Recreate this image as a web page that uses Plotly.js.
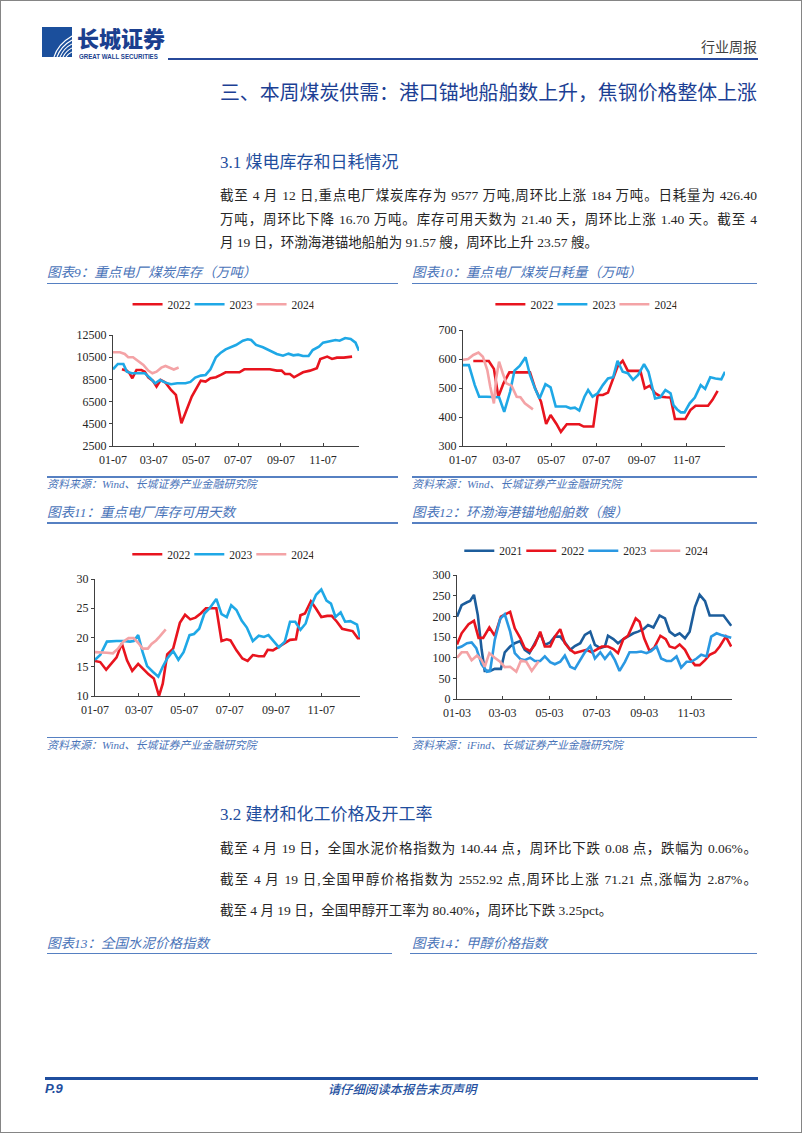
<!DOCTYPE html>
<html><head><meta charset="utf-8">
<script src="https://cdn.plot.ly/plotly-3.0.1.min.js"></script>
<style>
html,body{margin:0;padding:0;background:#fff;}
#page{position:relative;width:802px;height:1133px;overflow:hidden;background:#fff;font-family:"Liberation Serif","Noto Sans CJK SC",serif;}
#frame{position:absolute;left:0;top:0;width:802px;height:1133px;box-sizing:border-box;border:1px solid #858585;pointer-events:none;z-index:10;}
.abs{position:absolute;white-space:nowrap;}
.ctitle{position:absolute;white-space:nowrap;font-style:italic;font-size:13.5px;color:#4a74b9;line-height:16px;}
.src{position:absolute;white-space:nowrap;font-style:italic;font-size:11px;color:#4a74b9;line-height:14px;}
.hl{position:absolute;background:#5680c2;height:1.6px;}
.para{position:absolute;left:220px;width:537px;font-size:13.5px;color:#262626;line-height:18px;text-align:justify;text-align-last:justify;}
.para.last{text-align:left;text-align-last:left;white-space:nowrap;}
.sec{position:absolute;left:220px;font-size:17px;color:#1f4e9e;line-height:22px;white-space:nowrap;}
.chart{position:absolute;}
</style>
</head><body>
<div id="page">
  <div id="frame"></div>
  <!-- logo -->
  <svg class="abs" style="left:42px;top:27px" width="30" height="30" viewBox="0 0 30 30">
    <rect x="0" y="0" width="30" height="30" fill="#1b4f9c"/>
    <g fill="none" stroke="#ffffff" stroke-width="1.1">
      <path d="M12,30 Q16,17 30,9"/>
      <path d="M15,30 Q19,19 30,13"/>
      <path d="M18,30 Q22,21 30,17"/>
      <path d="M21,30 Q24,24 30,21"/>
      <path d="M24,30 Q26,27 30,25"/>
    </g>
  </svg>
  <div class="abs" style="left:77px;top:26px;font-family:'Noto Sans CJK SC';font-weight:900;font-size:22px;line-height:22px;color:#1b3f8f;">长城证券</div>
  <div class="abs" style="left:79px;top:53px;font-family:'Liberation Sans';font-weight:bold;font-size:7px;line-height:7px;color:#1b3f8f;transform:scaleX(0.88);transform-origin:left top;">GREAT WALL SECURITIES</div>
  <div class="abs" style="right:45px;top:37px;font-family:'Noto Sans CJK SC';font-size:14px;line-height:18px;color:#404040;">行业周报</div>
  <div class="abs" style="left:168px;top:58px;width:590px;height:2px;background:#27499a;"></div>

  <div class="abs" style="right:45px;top:79px;font-family:'Noto Sans CJK SC';font-size:19.9px;line-height:26px;color:#1c3f94;">三、本周煤炭供需：港口锚地船舶数上升，焦钢价格整体上涨</div>

  <div class="sec" style="top:152px;">3.1 煤电库存和日耗情况</div>
  <div class="para" style="top:187px;">截至 4 月 12 日,重点电厂煤炭库存为 9577 万吨,周环比上涨 184 万吨。日耗量为 426.40</div>
  <div class="para" style="top:211px;">万吨，周环比下降 16.70 万吨。库存可用天数为 21.40 天，周环比上涨 1.40 天。截至 4</div>
  <div class="para last" style="top:234px;">月 19 日，环渤海港锚地船舶为 91.57 艘，周环比上升 23.57 艘。</div>

  <!-- row 1 titles -->
  <div class="ctitle" style="left:47px;top:265px;">图表9：重点电厂煤炭库存（万吨）</div>
  <div class="ctitle" style="left:412px;top:265px;">图表10：重点电厂煤炭日耗量（万吨）</div>
  <div class="hl" style="left:47px;top:282.5px;width:351px;"></div>
  <div class="hl" style="left:412px;top:282.5px;width:345px;"></div>

  <div id="c9" class="chart"></div>
  <div id="c10" class="chart"></div>

  <div class="hl" style="left:47px;top:476px;width:351px;"></div>
  <div class="hl" style="left:412px;top:476px;width:345px;"></div>
  <div class="src" style="left:47px;top:477px;">资料来源：Wind、长城证券产业金融研究院</div>
  <div class="src" style="left:412px;top:477px;">资料来源：Wind、长城证券产业金融研究院</div>

  <!-- row 2 titles -->
  <div class="ctitle" style="left:47px;top:505px;">图表11：重点电厂库存可用天数</div>
  <div class="ctitle" style="left:412px;top:505px;">图表12：环渤海港锚地船舶数（艘）</div>
  <div class="hl" style="left:47px;top:522px;width:351px;"></div>
  <div class="hl" style="left:412px;top:522px;width:345px;"></div>

  <div id="c11" class="chart"></div>
  <div id="c12" class="chart"></div>

  <div class="hl" style="left:47px;top:736.5px;width:351px;"></div>
  <div class="hl" style="left:412px;top:736.5px;width:345px;"></div>
  <div class="src" style="left:47px;top:738px;">资料来源：Wind、长城证券产业金融研究院</div>
  <div class="src" style="left:412px;top:738px;">资料来源：iFind、长城证券产业金融研究院</div>

  <div class="sec" style="top:804px;">3.2 建材和化工价格及开工率</div>
  <div class="para" style="top:840px;">截至 4 月 19 日，全国水泥价格指数为 140.44 点，周环比下跌 0.08 点，跌幅为 0.06%。</div>
  <div class="para" style="top:871px;">截至 4 月 19 日,全国甲醇价格指数为 2552.92 点,周环比上涨 71.21 点,涨幅为 2.87%。</div>
  <div class="para last" style="top:902px;">截至 4 月 19 日，全国甲醇开工率为 80.40%，周环比下跌 3.25pct。</div>

  <div class="ctitle" style="left:47px;top:936px;">图表13：全国水泥价格指数</div>
  <div class="ctitle" style="left:412px;top:936px;">图表14：甲醇价格指数</div>
  <div class="hl" style="left:47px;top:952.5px;width:345px;"></div>
  <div class="hl" style="left:410px;top:952.5px;width:347px;"></div>

  <!-- footer -->
  <div class="abs" style="left:45px;top:1077px;width:713px;height:2.5px;background:#1f4e9e;"></div>
  <div class="abs" style="left:45px;top:1081px;font-family:'Liberation Sans';font-weight:bold;font-style:italic;font-size:13px;line-height:16px;color:#1f4e9e;">P.9</div>
  <div class="abs" style="left:327px;top:1081px;width:150px;text-align:center;font-family:'Noto Sans CJK SC';font-weight:500;font-style:italic;font-size:12.4px;line-height:16px;color:#2450a0;">请仔细阅读本报告末页声明</div>
</div>

<script>
// ---------- DATA ----------
// 图表9 重点电厂煤炭库存（万吨）
const c9_2022_dates = ['01-20','01-27','01-31','02-04','02-10','02-17','02-22','02-27','03-06','03-11','03-17','03-24','04-01','04-08','04-16','04-22','05-01','05-14','05-21','05-28','06-05','06-12','06-19','06-27','07-09','07-16','08-02','08-22','09-01','09-08','09-13','09-20','09-26','10-02','10-09','10-19','10-29','11-03','11-13','11-20','11-27','12-07','12-19'];
const c9_2022 = [9410,9290,9050,8600,9350,9350,9200,8690,8360,7850,8450,8210,7550,7100,4550,5450,6950,8390,8300,8600,8690,8900,9140,9140,9140,9410,9410,9410,9290,9290,8990,8990,8690,8900,9140,9290,9500,10340,10550,10340,10460,10460,10550];
const c9_2023_dates = ['01-07','01-14','01-22','01-27','02-03','02-13','02-22','03-02','03-09','03-16','03-24','04-01','04-10','04-22','04-29','05-06','05-14','05-21','05-28','06-05','06-12','06-19','06-27','07-04','07-14','07-21','07-26','08-02','08-12','08-22','09-01','09-10','09-18','09-25','10-02','10-09','10-17','10-23','11-01','11-07','11-18','11-25','12-01','12-09','12-17','12-24','12-29'];
const c9_2023 = [9410,9890,9890,9200,9050,9050,9050,8600,8150,8450,8210,8060,8150,8150,8270,8660,8840,8900,9410,10490,10910,11210,11390,11600,11990,12110,12050,11600,11390,11090,10790,10640,10820,10670,10730,10610,10610,11150,11450,11810,11990,12050,11990,12230,12140,11810,11090];
const c9_2024_dates = ['01-07','01-17','01-24','01-29','02-05','02-12','02-20','02-27','03-05','03-11','03-18','03-24','03-31','04-05','04-12'];
const c9_2024 = [10940,10940,10790,10490,10490,10190,9800,9290,9050,9200,9560,9710,9500,9393,9577];

// 图表10 重点电厂煤炭日耗量（万吨）
const c10_2022_dates = ['01-21','02-01','02-11','02-18','02-24','03-03','03-11','03-21','03-30','04-08','04-15','04-23','04-30','05-06','05-14','05-20','05-28','06-07','06-14','06-20','06-28','07-03','07-09','07-16','07-23','07-30','08-05','08-12','08-19','08-28','09-05','09-11','09-18','09-25','10-03','10-10','10-16','10-22','10-30','11-05','11-12','11-19','11-28','12-06','12-12','12-19'];
const c10_2022 = [593,593,593,566,470,516,554,554,554,554,499,453,376,407,376,349,375,375,375,367,367,367,476,476,484,536,574,594,559,559,559,499,508,482,470,468,467,393,393,393,424,439,439,439,459,490];
const c10_2023_dates = ['01-07','01-15','01-23','01-29','02-08','02-17','02-25','03-04','03-12','03-18','03-25','04-02','04-08','04-15','04-21','04-29','05-06','05-13','05-19','05-27','06-02','06-08','06-14','06-21','06-26','07-02','07-09','07-16','07-23','07-30','08-05','08-12','08-19','08-26','09-02','09-10','09-16','09-25','10-02','10-09','10-16','10-20','10-25','10-30','11-04','11-11','11-18','11-26','12-02','12-09','12-16','12-24','12-29'];
const c10_2023 = [579,579,510,470,470,470,468,418,487,560,576,606,545,497,464,513,502,436,436,436,430,432,422,470,493,470,482,510,533,537,594,556,551,528,545,582,556,464,468,493,482,441,426,416,416,447,467,510,497,537,533,530,556];
const c10_2024_dates = ['01-07','01-14','01-21','01-28','02-03','02-09','02-13','02-18','02-21','02-25','03-02','03-07','03-14','03-21','03-26','04-01','04-12'];
const c10_2024 = [597,600,614,622,608,562,505,447,533,591,551,516,508,470,468,447,426.4];

// 图表11 重点电厂库存可用天数
const c11_2022_dates = ['01-07','01-14','01-22','01-30','02-05','02-12','02-19','02-26','03-06','03-13','03-20','03-27','04-03','04-08','04-14','04-22','05-01','05-08','05-15','05-22','05-29','06-05','06-14','06-19','06-26','07-03','07-08','07-16','07-24','07-31','08-07','08-15','08-22','08-27','09-03','09-11','09-19','09-26','10-04','10-10','10-16','10-24','10-31','11-07','11-15','11-21','11-28','12-05','12-12','12-19','12-26','12-29'];
const c11_2022 = [16,15.8,14.5,15.8,16.6,19,16.1,14.3,15.5,14.6,13.7,13,10,12.1,17.1,18.1,22.5,23.9,23.1,23.4,24.1,25,25,25,19.4,19.7,19.5,17.8,16.4,16,17,16.8,16.8,17.9,17.8,18.4,19.1,19.6,19.7,23.8,24.1,26.2,24.9,23.5,23.7,23.7,22.7,21.5,21.3,21.1,19.9,19.9];
const c11_2023_dates = ['01-07','01-14','01-23','01-30','02-05','02-14','02-23','02-28','03-06','03-12','03-18','03-26','04-02','04-08','04-14','04-22','04-29','05-06','05-14','05-20','05-27','06-03','06-10','06-19','06-26','07-03','07-09','07-16','07-23','07-30','08-07','08-15','08-22','08-28','09-04','09-11','09-19','09-26','10-03','10-10','10-17','10-24','10-31','11-07','11-14','11-20','11-26','12-03','12-09','12-16','12-25','12-29'];
const c11_2023 = [16.2,17,19.3,19.4,19.4,19.4,19.3,19.4,20.4,17.5,15.1,14.1,13.3,15,16.4,17.7,16.2,17.5,20.4,20.6,21.5,24.1,25,26.6,24,23.5,25.5,24.7,22.9,21.7,19.4,20.3,20.1,20.4,19.4,18.3,19.3,22.7,22.7,21.3,22.4,25.3,27.3,28.2,26.3,25.8,23.5,24.3,22.7,22.8,22.2,20];
const c11_2024_dates = ['01-07','01-14','01-23','01-31','02-07','02-14','02-21','02-28','03-06','03-12','03-19','03-24','03-30','04-04','04-12'];
const c11_2024 = [17.5,17.5,17.4,17.3,18.1,19.3,19.9,19.9,19.1,18.1,18.1,18.9,19.5,20.2,21.4];

// 图表12 环渤海港锚地船舶数（艘）
const c12_2021_dates = ['01-03','01-09','01-16','01-20','01-25','01-30','02-04','02-08','02-15','02-21','03-01','03-06','03-13','03-19','03-26','04-01','04-07','04-14','04-21','04-27','05-04','05-10','05-17','05-23','05-30','06-05','06-12','06-18','06-25','07-01','07-08','07-14','07-18','07-25','07-31','08-07','08-13','08-20','08-26','09-02','09-08','09-15','09-23','09-30','10-06','10-13','10-19','10-26','11-01','11-08','11-14','11-21','11-27','12-04','12-10','12-15','12-25'];
const c12_2021 = [199,227,234,237,252,203,119,68,68,73,73,113,127,135,140,119,111,135,159,131,137,151,151,137,119,128,135,155,163,131,123,127,153,145,135,145,152,159,163,169,179,173,202,195,163,153,159,147,163,223,252,237,202,202,203,202,177];
const c12_2022_dates = ['01-03','01-09','01-18','01-25','01-31','02-06','02-14','02-21','03-01','03-08','03-13','03-19','03-26','04-01','04-08','04-14','04-21','04-27','05-04','05-10','05-17','05-23','05-30','06-05','06-12','06-20','06-27','07-03','07-10','07-18','07-25','07-31','08-07','08-13','08-23','08-28','09-03','09-10','09-16','09-24','10-01','10-06','10-13','10-19','10-26','11-01','11-08','11-14','11-21','11-27','12-04','12-10','12-18','12-25'];
const c12_2022 = [132,159,181,189,148,148,173,153,199,205,211,171,148,123,116,131,163,127,127,151,169,135,119,111,115,119,113,119,127,127,121,111,145,153,195,187,147,116,124,153,145,127,123,132,119,98,82,82,94,107,113,127,151,127];
const c12_2023_dates = ['01-03','01-09','01-16','01-22','01-28','02-04','02-11','02-15','02-21','02-28','03-06','03-13','03-19','03-26','04-01','04-08','04-14','04-21','04-27','05-04','05-10','05-17','05-23','05-30','06-05','06-12','06-18','06-25','07-01','07-08','07-14','07-21','07-27','08-02','08-09','08-15','08-24','08-30','09-06','09-12','09-19','09-25','10-02','10-08','10-15','10-21','10-28','11-03','11-10','11-16','11-23','11-29','12-06','12-12','12-19','12-25'];
const c12_2023 = [123,127,135,137,123,84,66,68,143,194,205,163,111,97,94,100,92,92,103,89,84,90,105,78,73,94,113,128,98,113,97,113,94,68,90,113,113,115,111,116,127,98,92,92,103,76,90,90,98,107,103,151,159,155,151,148];
const c12_2024_dates = ['01-03','01-09','01-16','01-22','01-29','02-04','02-08','02-14','02-21','02-28','03-06','03-13','03-21','03-27','04-03','04-10','04-19'];
const c12_2024 = [100,113,113,94,105,94,78,111,100,90,77,78,66,93,90,68,91.57];

// tick labels
const ticksA = ['01-07','03-07','05-07','07-07','09-07','11-07'];
const ticksB = ['01-03','03-03','05-03','07-03','09-03','11-03'];
const c9_yticks = [2500,4500,6500,8500,10500,12500];
const c10_yticks = [300,400,500,600,700];
const c11_yticks = [10,15,20,25,30];
const c12_yticks = [0,50,100,150,200,250,300];

// ---------- DRAWING ----------
const BASE = '2023-';
const FONT = 'Liberation Serif, Noto Sans CJK SC, serif';
const COL = {r:'#e8141e', b:'#1fa8e6', p:'#f4a3a6', d:'#1c5d9c', b2:'#2a98e2'};
const toX = a => a.map(d => BASE + d);
function tr(name, dates, vals, color){
  return {type:'scatter', mode:'lines', name:name, x:toX(dates), y:vals,
          line:{color:color, width:2.6}, hoverinfo:'skip'};
}
function build(id, g, traces, yt, yr, xt, xr){
  const el = document.getElementById(id);
  el.style.left = g.left + 'px'; el.style.top = g.top + 'px';
  el.style.width = g.w + 'px'; el.style.height = g.h + 'px';
  const m = {l: g.pl - g.left, r: g.left + g.w - g.pr, t: g.pt - g.top, b: g.top + g.h - g.pb, pad:0, autoexpand:false};
  const pw = g.pr - g.pl, ph = g.pb - g.pt;
  const layout = {
    width: g.w, height: g.h, margin: m,
    paper_bgcolor:'rgba(0,0,0,0)', plot_bgcolor:'rgba(0,0,0,0)',
    showlegend:true,
    legend:{orientation:'h', xanchor:'left', yanchor:'middle',
            x:(g.lx - 7 - g.pl)/pw, y:(g.pb - g.ly)/ph,
            font:{family:FONT, size:11.5, color:'#262626'},
            itemwidth:30, entrywidth:g.ew, bgcolor:'rgba(0,0,0,0)', traceorder:'normal'},
    xaxis:{type:'date', range:[BASE+xr[0], BASE+xr[1]], tickvals:toX(xt), ticktext:xt,
           showgrid:false, zeroline:false, showline:true, linecolor:'#404040', linewidth:1,
           ticks:'inside', ticklen:3, tickcolor:'#404040', ticklabelstandoff:3,
           tickfont:{family:FONT, size:12, color:'#262626'}},
    yaxis:{range:yr, tickvals:yt, ticktext:yt.map(String),
           showgrid:false, zeroline:false, showline:true, linecolor:'#404040', linewidth:1,
           ticks:'outside', ticklen:3, tickcolor:'#404040',
           tickfont:{family:FONT, size:12, color:'#262626'}}
  };
  Plotly.newPlot(el, traces, layout, {staticPlot:true, displayModeBar:false});
}

build('c9', {left:40, top:288, w:340, h:186, pl:112.7, pr:359.3, pt:335, pb:446, ly:304.3, lx:134.3, ew:17},
  [tr('2022', c9_2022_dates, c9_2022, COL.r), tr('2023', c9_2023_dates, c9_2023, COL.b), tr('2024', c9_2024_dates, c9_2024, COL.p)],
  c9_yticks, [2500,12500], ticksA, ['01-07','12-29']);

build('c10', {left:405, top:288, w:340, h:186, pl:463.3, pr:725.5, pt:330, pb:446, ly:304.3, lx:497.7, ew:17},
  [tr('2022', c10_2022_dates, c10_2022, COL.r), tr('2023', c10_2023_dates, c10_2023, COL.b), tr('2024', c10_2024_dates, c10_2024, COL.p)],
  c10_yticks, [300,700], ticksA, ['01-07','12-29']);

build('c11', {left:40, top:535, w:340, h:190, pl:95, pr:360, pt:579, pb:695.7, ly:554.3, lx:134.3, ew:17},
  [tr('2022', c11_2022_dates, c11_2022, COL.r), tr('2023', c11_2023_dates, c11_2023, COL.b), tr('2024', c11_2024_dates, c11_2024, COL.p)],
  c11_yticks, [10,30], ticksA, ['01-07','12-29']);

build('c12', {left:405, top:535, w:340, h:190, pl:456.7, pr:732.3, pt:575, pb:699, ly:550.7, lx:466, ew:17},
  [tr('2021', c12_2021_dates, c12_2021, COL.d), tr('2022', c12_2022_dates, c12_2022, COL.r), tr('2023', c12_2023_dates, c12_2023, COL.b2), tr('2024', c12_2024_dates, c12_2024, COL.p)],
  c12_yticks, [0,300], ticksB, ['01-03','12-26']);
</script>
</body></html>
